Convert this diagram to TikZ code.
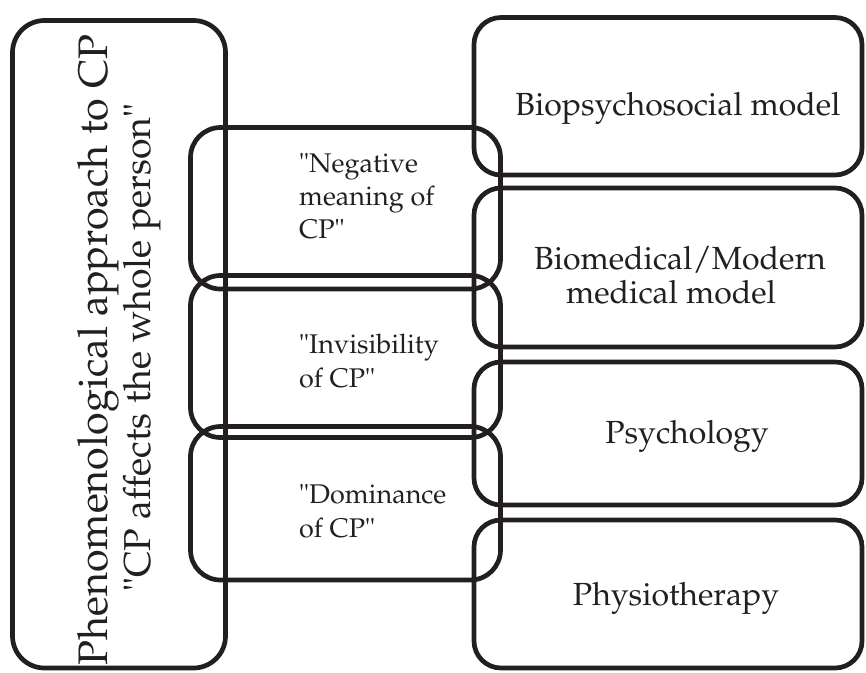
\documentclass[tikz,border=0pt]{standalone}
\usepackage[T1]{fontenc}
\usepackage{mathpazo}
\definecolor{ink}{HTML}{231F20}
\tikzset{
  boxframe/.style={draw=ink, line width=4.7pt, rounded corners=#1, inner sep=0pt, outer sep=0pt},
  boxframe/.default=30pt,
  sidetext/.style={text=ink, inner sep=0pt, rotate=90, anchor=base},
  midtext/.style={text=ink, inner sep=0pt, anchor=base west, font=\fontsize{27}{33}\selectfont},
  righttext/.style={text=ink, inner sep=0pt, anchor=base, font=\fontsize{32}{34}\selectfont},
}
\begin{document}
\begin{tikzpicture}[x=1pt,y=-1pt]
  \useasboundingbox (0,0) rectangle (866,672);

  % tall framing box on the left
  \node[boxframe=32pt, minimum width=213pt, minimum height=647.5pt] (phen) at (119,344.25) {};

  % the three overlapping theme boxes
  \node[boxframe, minimum width=310pt, minimum height=161.5pt] (neg) at (345.5,208.25) {};
  \node[boxframe, minimum width=310pt, minimum height=162pt] (invis) at (345.5,356.5) {};
  \node[boxframe, minimum width=310pt, minimum height=153.5pt] (domin) at (345.5,503.25) {};

  % the four model boxes on the right
  \node[boxframe=27pt, minimum width=388pt, minimum height=157.5pt] (bps) at (668,96.25) {};
  \node[boxframe=27pt, minimum width=388pt, minimum height=159pt] (biomed) at (668,267.5) {};
  \node[boxframe=27pt, minimum width=388pt, minimum height=143pt] (psych) at (668,433.5) {};
  \node[boxframe=27pt, minimum width=388pt, minimum height=148pt] (physio) at (668,594) {};

  % rotated title in the left box
  \node[sidetext, font=\fontsize{41.3}{46}\selectfont] (phenA) at (107,350) {Phenomenological approach to CP};
  \node[sidetext, font=\fontsize{37.5}{43}\selectfont] (phenB) at (150,347.5) {"CP affects the whole person"};

  % theme labels
  \node[midtext] (negA) at (299,172) {"Negative};
  \node[midtext] (negB) at (299,205) {meaning of};
  \node[midtext] (negC) at (299,238) {CP"};
  \node[midtext] (invisA) at (299,353) {"Invisibility};
  \node[midtext] (invisB) at (299,387) {of CP"};
  \node[midtext] (dominA) at (299,503) {"Dominance};
  \node[midtext] (dominB) at (299,537) {of CP"};

  % model labels
  \node[righttext] (bpsT) at (678,115) {Biopsychosocial model};
  \node[righttext] (biomedA) at (680,269) {Biomedical/Modern};
  \node[righttext] (biomedB) at (671,303) {medical model};
  \node[righttext] (psychT) at (687,443) {Psychology};
  \node[righttext] (physioT) at (676,605) {Physiotherapy};
\end{tikzpicture}
\end{document}
